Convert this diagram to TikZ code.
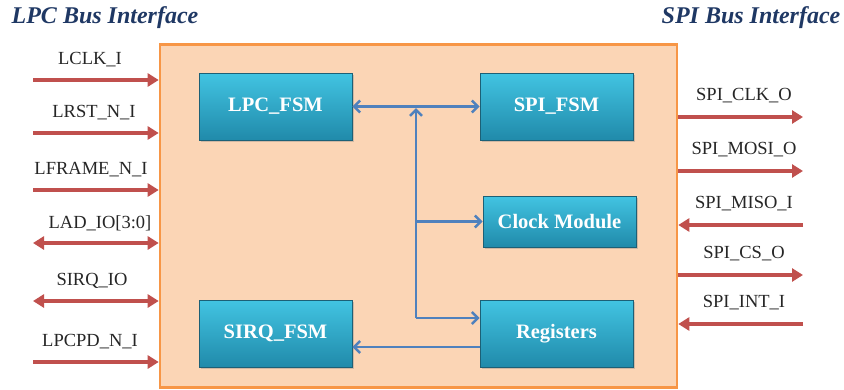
\documentclass[tikz,border=0pt]{standalone}
\usepackage{fontspec}
\setmainfont{Liberation Serif}
\usepackage{tikz}
\usetikzlibrary{positioning,arrows.meta,shadows}
\definecolor{peach}{RGB}{251,213,181}
\definecolor{tangerine}{RGB}{247,150,70}
\definecolor{brick}{RGB}{192,80,77}
\definecolor{steel}{RGB}{79,129,189}
\definecolor{navy}{RGB}{31,56,100}
\definecolor{cyantop}{RGB}{66,196,226}
\definecolor{cyanbot}{RGB}{32,138,170}
\definecolor{tealedge}{RGB}{28,96,118}
\tikzset{
  blk/.style={draw=tealedge, line width=0.8pt, top color=cyantop, bottom color=cyanbot, text=white, font=\fontsize{20.5}{22}\selectfont\bfseries, minimum width=153pt, minimum height=#1, inner sep=0pt, drop shadow={opacity=0.35, shadow xshift=1.5pt, shadow yshift=-1.5pt}},
  blk/.default=67pt,
  sigin/.style={-{Triangle[length=11pt, width=13pt]}, line width=4pt, draw=brick},
  sigbi/.style={{Triangle[length=11pt, width=13pt]}-{Triangle[length=11pt, width=13pt]}, line width=4pt, draw=brick},
  bus/.style={-{Straight Barb[length=6pt, width=12pt]}, line width=2.5pt, draw=steel},
  bibus/.style={{Straight Barb[length=6pt, width=12pt]}-{Straight Barb[length=6pt, width=12pt]}, line width=2.5pt, draw=steel},
  sig/.style={font=\fontsize{18.5}{20}\selectfont, inner sep=0pt, text=black!85},
  ttl/.style={font=\fontsize{24}{26}\selectfont\bfseries\itshape, text=navy, inner sep=0pt}
}

\begin{document}
\begin{tikzpicture}[x=1pt, y=-1pt]
    \useasboundingbox (0,0) rectangle (844,389);
    % core
    \node[draw=tangerine, line width=2.6pt, fill=peach, minimum width=517pt, minimum height=343pt, inner sep=0pt] (core) at (418.5,216) {};
    \node[ttl] (lpct) at (105,18) {LPC Bus Interface};
    \node[ttl] (spit) at (751,18) {SPI Bus Interface};
    % blocks
    \node[blk] (lpc) at (275.5,106.5) {LPC\_FSM};
    \node[blk] (spi) at (556.5,106.5) {SPI\_FSM};
    \node[blk=51pt] (clk) at (559.5,221.5) {Clock Module};
    \node[blk] (sirq) at (275.5,333.5) {SIRQ\_FSM};
    \node[blk] (reg) at (556.5,333.5) {Registers};
    % internal bus
    \coordinate (jt) at (416,108);
    \coordinate (jb) at (416,318);
    \draw[bibus] (lpc.east) -- (spi.west);
    \draw[bus] (jb) -- (jt);
    \draw[bus] (jb |- clk) -- (clk.west);
    \draw[bus] (jb) -- (reg.west |- jb);
    \draw[bus] (reg.west |- 0,347) -- (sirq.east |- 0,347);
    % LPC side
    \foreach \yy/\xx/\lab/\kind [count=\i] in {80/90/{LCLK\_I}/sigin, 133/94/{LRST\_N\_I}/sigin, 190/91/{LFRAME\_N\_I}/sigin, 243/100/{LAD\_IO[3:0]}/sigbi, 301/92/{SIRQ\_IO}/sigbi, 362/90/{LPCPD\_N\_I}/sigin} {
      \coordinate (ls\i) at (33,\yy);
      \draw[\kind] (ls\i) -- (core.west |- ls\i);
      \node[sig] (ll\i) at (\xx,\yy-20) {\lab};
    }
    % SPI side
    \foreach \yy/\lab [count=\i] in {117/{SPI\_CLK\_O}, 171/{SPI\_MOSI\_O}, 225/{SPI\_MISO\_I}, 275/{SPI\_CS\_O}, 324/{SPI\_INT\_I}} {
      \coordinate (rs\i) at (803,\yy);
      \node[sig] (rl\i) at (744,\yy-21) {\lab};
    }
    \draw[sigin] (core.east |- rs1) -- (rs1);
    \draw[sigin] (core.east |- rs2) -- (rs2);
    \draw[sigin] (rs3) -- (core.east |- rs3);
    \draw[sigin] (core.east |- rs4) -- (rs4);
    \draw[sigin] (rs5) -- (core.east |- rs5);
\end{tikzpicture}
\end{document}
